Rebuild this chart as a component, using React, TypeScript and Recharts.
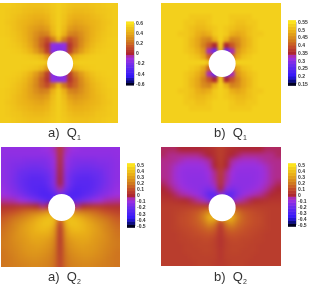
import React from 'react';
import { ScatterChart, Scatter, XAxis, YAxis, ReferenceDot, ReferenceArea } from 'recharts';

// values, one row per grid line, top row first
const q1aRows = [
  [.52,.52,.51,.50,.49,.48,.48,.48,.49,.51,.53,.51,.49,.48,.48,.48,.49,.50,.51,.52,.52],
  [.52,.51,.50,.49,.47,.46,.45,.45,.47,.50,.53,.50,.47,.45,.45,.46,.47,.49,.50,.51,.52],
  [.52,.51,.49,.47,.45,.43,.42,.42,.44,.49,.53,.49,.44,.42,.42,.43,.45,.47,.49,.51,.52],
  [.52,.50,.48,.45,.43,.41,.39,.38,.41,.48,.53,.48,.41,.38,.39,.41,.43,.45,.48,.50,.52],
  [.52,.51,.48,.45,.42,.38,.35,.33,.36,.46,.53,.46,.36,.33,.35,.38,.42,.45,.48,.51,.52],
  [.52,.51,.49,.46,.42,.37,.31,.26,.28,.42,.52,.42,.28,.26,.31,.37,.42,.46,.49,.51,.52],
  [.53,.52,.50,.47,.43,.37,.29,.19,.12,.24,.44,.24,.12,.19,.29,.37,.43,.47,.50,.52,.53],
  [.53,.52,.51,.49,.45,.39,.30,.18,.05,-.14,-.16,-.14,.05,.18,.30,.39,.45,.49,.51,.52,.53],
  [.53,.53,.52,.51,.48,.43,.35,.24,.08,-.16,-.18,-.16,.08,.24,.35,.43,.48,.51,.52,.53,.53],
  [.53,.53,.53,.53,.52,.51,.49,.45,.35,.10,.00,.10,.35,.45,.49,.51,.52,.53,.53,.53,.53],
  [.53,.53,.53,.53,.53,.53,.53,.52,.50,.40,.40,.40,.50,.52,.53,.53,.53,.53,.53,.53,.53],
  [.53,.53,.53,.53,.52,.51,.49,.45,.35,.10,.00,.10,.35,.45,.49,.51,.52,.53,.53,.53,.53],
  [.53,.53,.52,.51,.48,.43,.35,.24,.08,-.16,-.18,-.16,.08,.24,.35,.43,.48,.51,.52,.53,.53],
  [.53,.52,.51,.49,.45,.39,.30,.18,.05,-.14,-.16,-.14,.05,.18,.30,.39,.45,.49,.51,.52,.53],
  [.53,.52,.50,.47,.43,.37,.29,.19,.12,.24,.44,.24,.12,.19,.29,.37,.43,.47,.50,.52,.53],
  [.52,.51,.49,.46,.42,.37,.31,.26,.28,.42,.52,.42,.28,.26,.31,.37,.42,.46,.49,.51,.52],
  [.52,.51,.48,.45,.42,.38,.35,.33,.36,.46,.53,.46,.36,.33,.35,.38,.42,.45,.48,.51,.52],
  [.52,.50,.48,.45,.43,.41,.39,.38,.41,.48,.53,.48,.41,.38,.39,.41,.43,.45,.48,.50,.52],
  [.52,.51,.49,.47,.45,.43,.42,.42,.44,.49,.53,.49,.44,.42,.42,.43,.45,.47,.49,.51,.52],
  [.52,.51,.50,.49,.47,.46,.45,.45,.47,.50,.53,.50,.47,.45,.45,.46,.47,.49,.50,.51,.52],
  [.52,.52,.51,.50,.49,.48,.48,.48,.49,.51,.53,.51,.49,.48,.48,.48,.49,.50,.51,.52,.52],
];

const q1bRows = [
  [.53,.53,.53,.53,.53,.53,.53,.53,.53,.53,.53,.53,.53,.53,.53,.53,.53,.53,.53,.53,.53],
  [.53,.53,.53,.53,.53,.53,.53,.53,.53,.53,.53,.53,.53,.53,.53,.53,.53,.53,.53,.53,.53],
  [.53,.53,.53,.53,.53,.52,.52,.52,.52,.53,.53,.53,.52,.52,.52,.52,.53,.53,.53,.53,.53],
  [.53,.53,.53,.53,.52,.52,.51,.51,.52,.53,.53,.53,.52,.51,.51,.52,.52,.53,.53,.53,.53],
  [.53,.53,.53,.53,.52,.51,.50,.50,.51,.52,.53,.52,.51,.50,.50,.51,.52,.53,.53,.53,.53],
  [.53,.53,.53,.52,.52,.51,.49,.48,.49,.52,.53,.52,.49,.48,.49,.51,.52,.52,.53,.53,.53],
  [.53,.53,.53,.53,.52,.50,.48,.45,.44,.49,.53,.49,.44,.45,.48,.50,.52,.53,.53,.53,.53],
  [.53,.53,.53,.53,.52,.50,.48,.44,.40,.35,.52,.35,.40,.44,.48,.50,.52,.53,.53,.53,.53],
  [.53,.53,.53,.53,.52,.51,.49,.46,.33,.27,.50,.27,.33,.46,.49,.51,.52,.53,.53,.53,.53],
  [.53,.53,.53,.53,.53,.52,.51,.48,.41,.38,.48,.38,.41,.48,.51,.52,.53,.53,.53,.53,.53],
  [.53,.53,.53,.53,.53,.53,.53,.53,.51,.50,.50,.50,.51,.53,.53,.53,.53,.53,.53,.53,.53],
  [.53,.53,.53,.53,.53,.52,.51,.48,.41,.38,.48,.38,.41,.48,.51,.52,.53,.53,.53,.53,.53],
  [.53,.53,.53,.53,.52,.51,.49,.46,.33,.27,.50,.27,.33,.46,.49,.51,.52,.53,.53,.53,.53],
  [.53,.53,.53,.53,.52,.50,.48,.44,.40,.35,.52,.35,.40,.44,.48,.50,.52,.53,.53,.53,.53],
  [.53,.53,.53,.53,.52,.50,.48,.45,.44,.49,.53,.49,.44,.45,.48,.50,.52,.53,.53,.53,.53],
  [.53,.53,.53,.52,.52,.51,.49,.48,.49,.52,.53,.52,.49,.48,.49,.51,.52,.52,.53,.53,.53],
  [.53,.53,.53,.53,.52,.51,.50,.50,.51,.52,.53,.52,.51,.50,.50,.51,.52,.53,.53,.53,.53],
  [.53,.53,.53,.53,.52,.52,.51,.51,.52,.53,.53,.53,.52,.51,.51,.52,.52,.53,.53,.53,.53],
  [.53,.53,.53,.53,.53,.52,.52,.52,.52,.53,.53,.53,.52,.52,.52,.52,.53,.53,.53,.53,.53],
  [.53,.53,.53,.53,.53,.53,.53,.53,.53,.53,.53,.53,.53,.53,.53,.53,.53,.53,.53,.53,.53],
  [.53,.53,.53,.53,.53,.53,.53,.53,.53,.53,.53,.53,.53,.53,.53,.53,.53,.53,.53,.53,.53],
];

const q2aRows = [
  [-.11,-.11,-.11,-.11,-.11,-.11,-.11,-.10,-.09,-.05,.05,-.05,-.09,-.10,-.11,-.11,-.11,-.11,-.11,-.11,-.11],
  [-.11,-.12,-.12,-.12,-.12,-.12,-.12,-.12,-.11,-.07,.04,-.07,-.11,-.12,-.12,-.12,-.12,-.12,-.12,-.12,-.11],
  [-.12,-.13,-.14,-.14,-.15,-.15,-.15,-.15,-.14,-.09,.03,-.09,-.14,-.15,-.15,-.15,-.15,-.14,-.14,-.13,-.12],
  [-.12,-.14,-.15,-.16,-.17,-.18,-.18,-.17,-.15,-.10,.02,-.10,-.15,-.17,-.18,-.18,-.17,-.16,-.15,-.14,-.12],
  [-.12,-.14,-.16,-.19,-.20,-.21,-.21,-.20,-.18,-.12,.01,-.12,-.18,-.20,-.21,-.21,-.20,-.19,-.16,-.14,-.12],
  [-.12,-.14,-.17,-.20,-.22,-.24,-.24,-.23,-.20,-.13,.00,-.13,-.20,-.23,-.24,-.24,-.22,-.20,-.17,-.14,-.12],
  [-.11,-.14,-.17,-.20,-.23,-.25,-.25,-.25,-.21,-.13,.00,-.13,-.21,-.25,-.25,-.25,-.23,-.20,-.17,-.14,-.11],
  [-.10,-.13,-.15,-.19,-.22,-.25,-.26,-.27,-.24,-.17,-.04,-.17,-.24,-.27,-.26,-.25,-.22,-.19,-.15,-.13,-.10],
  [-.08,-.10,-.13,-.15,-.19,-.22,-.25,-.28,-.28,-.25,-.17,-.25,-.28,-.28,-.25,-.22,-.19,-.15,-.13,-.10,-.08],
  [-.03,-.04,-.05,-.08,-.10,-.14,-.17,-.21,-.25,-.25,-.17,-.25,-.25,-.21,-.17,-.14,-.10,-.08,-.05,-.04,-.03],
  [.03,.03,.04,.05,.05,.04,.02,-.02,.00,.00,.00,.00,.00,-.02,.02,.04,.05,.05,.04,.03,.03],
  [.08,.10,.12,.15,.18,.20,.22,.25,.30,.30,.30,.30,.30,.25,.22,.20,.18,.15,.12,.10,.08],
  [.13,.16,.19,.22,.25,.29,.33,.37,.40,.38,.20,.38,.40,.37,.33,.29,.25,.22,.19,.16,.13],
  [.16,.19,.23,.26,.30,.33,.37,.40,.41,.36,.05,.36,.41,.40,.37,.33,.30,.26,.23,.19,.16],
  [.18,.21,.24,.28,.31,.34,.37,.38,.37,.30,.03,.30,.37,.38,.37,.34,.31,.28,.24,.21,.18],
  [.19,.22,.25,.28,.30,.33,.34,.34,.33,.27,.03,.27,.33,.34,.34,.33,.30,.28,.25,.22,.19],
  [.20,.22,.25,.27,.29,.31,.32,.31,.29,.24,.03,.24,.29,.31,.32,.31,.29,.27,.25,.22,.20],
  [.20,.22,.24,.26,.28,.29,.30,.29,.27,.22,.04,.22,.27,.29,.30,.29,.28,.26,.24,.22,.20],
  [.19,.21,.23,.25,.27,.28,.28,.27,.25,.20,.05,.20,.25,.27,.28,.28,.27,.25,.23,.21,.19],
  [.19,.20,.22,.24,.25,.26,.26,.25,.23,.19,.06,.19,.23,.25,.26,.26,.25,.24,.22,.20,.19],
  [.19,.20,.21,.22,.23,.24,.24,.23,.22,.18,.07,.18,.22,.23,.24,.24,.23,.22,.21,.20,.19],
];

const q2bRows = [
  [-.01,-.01,-.01,.00,.00,.00,.00,.01,.02,.04,.07,.04,.02,.01,.00,.00,.00,.00,-.01,-.01,-.01],
  [-.01,-.02,-.02,-.02,-.02,-.02,-.02,-.01,.00,.03,.07,.03,.00,-.01,-.02,-.02,-.02,-.02,-.02,-.02,-.01],
  [-.02,-.02,-.03,-.05,-.07,-.07,-.07,-.06,-.03,.01,.07,.01,-.03,-.06,-.07,-.07,-.07,-.05,-.03,-.02,-.02],
  [-.02,-.03,-.06,-.09,-.10,-.10,-.10,-.09,-.06,.00,.06,.00,-.06,-.09,-.10,-.10,-.10,-.09,-.06,-.03,-.02],
  [-.02,-.03,-.07,-.10,-.11,-.11,-.11,-.11,-.08,-.02,.06,-.02,-.08,-.11,-.11,-.11,-.11,-.10,-.07,-.03,-.02],
  [-.02,-.03,-.07,-.10,-.11,-.12,-.12,-.12,-.09,-.03,.05,-.03,-.09,-.12,-.12,-.12,-.11,-.10,-.07,-.03,-.02],
  [-.01,-.03,-.06,-.09,-.11,-.12,-.12,-.12,-.11,-.05,.04,-.05,-.11,-.12,-.12,-.12,-.11,-.09,-.06,-.03,-.01],
  [.00,-.01,-.04,-.07,-.09,-.11,-.12,-.14,-.16,-.11,.00,-.11,-.16,-.14,-.12,-.11,-.09,-.07,-.04,-.01,.00],
  [.02,.01,-.01,-.03,-.05,-.07,-.10,-.15,-.24,-.26,-.10,-.26,-.24,-.15,-.10,-.07,-.05,-.03,-.01,.01,.02],
  [.04,.04,.03,.02,.01,-.01,-.03,-.06,-.15,-.20,-.10,-.20,-.15,-.06,-.03,-.01,.01,.02,.03,.04,.04],
  [.06,.06,.06,.06,.06,.06,.06,.06,.05,.00,.00,.00,.05,.06,.06,.06,.06,.06,.06,.06,.06],
  [.06,.06,.07,.08,.09,.11,.13,.18,.25,.30,.30,.30,.25,.18,.13,.11,.09,.08,.07,.06,.06],
  [.06,.06,.07,.09,.10,.12,.15,.22,.36,.40,.30,.40,.36,.22,.15,.12,.10,.09,.07,.06,.06],
  [.06,.06,.07,.09,.10,.12,.14,.18,.27,.22,.05,.22,.27,.18,.14,.12,.10,.09,.07,.06,.06],
  [.06,.06,.07,.08,.09,.10,.12,.14,.17,.14,.03,.14,.17,.14,.12,.10,.09,.08,.07,.06,.06],
  [.06,.06,.06,.07,.08,.09,.10,.11,.12,.10,.03,.10,.12,.11,.10,.09,.08,.07,.06,.06,.06],
  [.06,.06,.06,.07,.07,.08,.08,.09,.09,.07,.03,.07,.09,.09,.08,.08,.07,.07,.06,.06,.06],
  [.06,.06,.06,.06,.07,.07,.08,.08,.08,.07,.03,.07,.08,.08,.08,.07,.07,.06,.06,.06,.06],
  [.06,.06,.06,.06,.07,.07,.07,.08,.08,.07,.04,.07,.08,.08,.07,.07,.07,.06,.06,.06,.06],
  [.06,.06,.06,.06,.06,.07,.07,.07,.07,.07,.04,.07,.07,.07,.07,.07,.06,.06,.06,.06,.06],
  [.06,.06,.06,.06,.06,.06,.07,.07,.07,.06,.05,.06,.07,.07,.07,.06,.06,.06,.06,.06,.06],
];

const q1aTicks = [0.6, 0.4, 0.2, 0, -0.2, -0.4, -0.6];
const q1bTicks = [0.55, 0.5, 0.45, 0.4, 0.35, 0.3, 0.25, 0.2, 0.15];
const q2Ticks = [0.5, 0.4, 0.3, 0.2, 0.1, 0, -0.1, -0.2, -0.3, -0.4, -0.5];

const q1aLevels = [-.6,-.55,-.5,-.45,-.4,-.35,-.3,-.25,-.2,-.15,-.1,-.05,0,.05,.1,.15,.2,.25,.3,.35,.4,.45,.5,.55,.6];
const q1bLevels = [.15,.17,.19,.21,.23,.25,.27,.29,.31,.33,.35,.37,.39,.41,.43,.45,.47,.49,.51,.53,.55];
const q2Levels = [-.5,-.45,-.4,-.35,-.3,-.25,-.2,-.15,-.1,-.05,0,.05,.1,.15,.2,.25,.3,.35,.4,.45,.5];

// colour stops along the colour bar, bottom to top
const stopAt = [0, 0.06, 0.13, 0.3, 0.42, 0.48, 0.5, 0.62, 0.7, 0.85, 0.95, 1];
const stopColor = [
  [0, 0, 32], [16, 16, 150], [50, 24, 248], [105, 45, 238], [160, 48, 222], [176, 44, 140],
  [172, 38, 50], [198, 84, 40], [208, 122, 30], [234, 176, 24], [243, 208, 28], [252, 228, 30],
];

const colorFor = (v: number, lo: number, hi: number) => {
  const t = Math.min(1, Math.max(0, (v - lo) / (hi - lo)));
  let i = 0;
  while (i < stopAt.length - 2 && t > stopAt[i + 1]) i++;
  const f = (t - stopAt[i]) / (stopAt[i + 1] - stopAt[i]);
  const c = stopColor[i].map((a, k) => Math.round(a + (stopColor[i + 1][k] - a) * f));
  return `rgb(${c[0]},${c[1]},${c[2]})`;
};

const FieldPanel: React.FC<{
  rows: number[][]; lo: number; hi: number; left: number; top: number; width: number; height: number; hole: [number, number]; radius: number; soft?: boolean;
}> = ({ rows, lo, hi, left, top, width, height, hole, radius, soft }) => {
  const n = rows.length;
  const data = rows.flatMap((row, r) => row.map((v, c) => ({ x: c, y: r, v })));
  const cw = width / n;
  const ch = height / n;
  // border cells run on past the plot so the blur does not fade at the edges
  const Cell = (p: any) => {
    const { x, y, v } = p.payload;
    const l = p.cx - cw / 2 - 0.5 - (x === 0 ? 12 : 0);
    const r = p.cx + cw / 2 + 0.5 + (x === n - 1 ? 12 : 0);
    const t = p.cy - ch / 2 - 0.5 - (y === 0 ? 12 : 0);
    const b = p.cy + ch / 2 + 0.5 + (y === n - 1 ? 12 : 0);
    return <rect x={l} y={t} width={r - l} height={b - t} fill={colorFor(v, lo, hi)} />;
  };
  return (
    <div style={{ position: 'absolute', left, top, width, height, overflow: 'hidden' }}>
      <ScatterChart width={width} height={height} margin={{ top: 0, right: 0, bottom: 0, left: 0 }}>
        <XAxis type="number" dataKey="x" domain={[-0.5, n - 0.5]} hide />
        <YAxis type="number" dataKey="y" domain={[-0.5, n - 0.5]} reversed hide />
        <Scatter className={soft ? 'field-soft' : 'field'} data={data} shape={Cell} isAnimationActive={false} />
        <ReferenceDot x={hole[0]} y={hole[1]} r={radius} fill="#fff" stroke="none" />
      </ScatterChart>
    </div>
  );
};

const ColorBar: React.FC<{ levels: number[]; ticks: number[]; left: number; top: number; barH: number }> = ({ levels, ticks, left, top, barH }) => {
  const lo = levels[0];
  const hi = levels[levels.length - 1];
  const data = levels.map((v) => ({ x: 0, y: v, v }));
  const h = barH / (levels.length - 1);
  const Step = (p: any) => (
    <rect x={p.cx - 4} y={p.cy - h / 2 - 0.3} width={8} height={h + 0.6} fill={colorFor(p.payload.v, lo, hi)} />
  );
  return (
    <div style={{ position: 'absolute', left, top }}>
      <ScatterChart width={30} height={barH + 8} margin={{ top: 4, right: 0, bottom: 4, left: 0 }}>
        <XAxis type="number" dataKey="x" domain={[-1, 1]} hide />
        <YAxis
          type="number"
          dataKey="y"
          orientation="right"
          width={22}
          domain={[lo, hi]}
          ticks={ticks}
          interval={0}
          axisLine={false}
          tickSize={0}
          tickMargin={2}
          tick={{ fontSize: 5, fill: '#333', fontFamily: 'Liberation Sans', fontWeight: 700 }}
        />
        <Scatter data={data} shape={Step} isAnimationActive={false} />
        <ReferenceArea x1={-1} x2={1} y1={lo} y2={hi} fill="none" stroke="#555" strokeWidth={0.6} />
      </ScatterChart>
    </div>
  );
};

const Caption: React.FC<{ tag: string; sub: string; left: number; top: number }> = ({ tag, sub, left, top }) => (
  <div style={{ position: 'absolute', left, top, fontFamily: 'Liberation Sans', fontSize: 13, color: '#333', whiteSpace: 'pre', lineHeight: '14px' }}>
    {tag}{'  '}Q<span style={{ fontSize: 7, position: 'relative', top: 3 }}>{sub}</span>
  </div>
);

export default function App() {
  return (
    <div style={{ position: 'absolute', left: 0, top: 0, width: 309, height: 288, overflow: 'hidden', background: '#fff', filter: 'blur(0.35px)' }}>
      <style>{'.field{filter:blur(1.8px)}.field-soft{filter:blur(2.6px)}'}</style>

      <FieldPanel rows={q1aRows} lo={-0.6} hi={0.6} left={0} top={3} width={118} height={120} hole={[10.2, 10.1]} radius={13} />
      <FieldPanel rows={q1bRows} lo={0.15} hi={0.55} left={161} top={3} width={120} height={120} hole={[10.2, 10.1]} radius={13.5} />
      <FieldPanel rows={q2aRows} lo={-0.5} hi={0.5} left={1} top={147} width={119} height={120} hole={[10.2, 10.1]} radius={13.5} soft />
      <FieldPanel rows={q2bRows} lo={-0.5} hi={0.5} left={161} top={147} width={120} height={119} hole={[10.2, 10.2]} radius={13.5} soft />

      <ColorBar levels={q1aLevels} ticks={q1aTicks} left={126} top={19} barH={61} />
      <ColorBar levels={q1bLevels} ticks={q1bTicks} left={288} top={18} barH={62} />
      <ColorBar levels={q2Levels} ticks={q2Ticks} left={127} top={161} barH={61} />
      <ColorBar levels={q2Levels} ticks={q2Ticks} left={288} top={161} barH={60} />

      <Caption tag="a)" sub="1" left={48} top={126} />
      <Caption tag="b)" sub="1" left={214} top={126} />
      <Caption tag="a)" sub="2" left={48} top={270} />
      <Caption tag="b)" sub="2" left={214} top={270} />
    </div>
  );
}
